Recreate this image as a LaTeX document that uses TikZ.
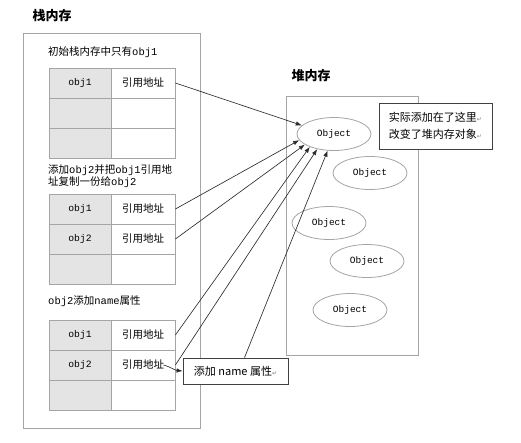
\documentclass[tikz,border=0pt]{standalone}
\usepackage{fontspec}
\setmainfont{Noto Sans CJK SC}
\setmonofont{Liberation Mono}
\newfontfamily\symfont{DejaVu Sans}
\usetikzlibrary{arrows.meta,shapes.geometric,positioning}
\definecolor{boxgray}{RGB}{165,165,165}
\definecolor{cellgray}{RGB}{228,228,228}
\definecolor{linegray}{RGB}{45,45,45}
\newcommand{\crmark}{{\color{gray}\symfont\fontsize{6}{6}\selectfont ↵}}

\begin{document}
\begin{tikzpicture}[x=1pt, y=-1pt, font=\fontsize{10.5}{12}\selectfont,
	frame/.style={draw=boxgray, line width=0.9pt},
	keycell/.style={draw=boxgray, fill=cellgray, line width=0.8pt, minimum width=62pt, minimum height=30pt, inner sep=0pt, font=\ttfamily\fontsize{9.7}{11}\selectfont},
	valcell/.style={draw=boxgray, fill=white, line width=0.8pt, minimum width=64pt, minimum height=30pt, inner sep=0pt},
	caption/.style={anchor=west, inner sep=0pt, align=left},
	title/.style={font=\bfseries\fontsize{13}{15}\selectfont},
	obj/.style={ellipse, draw=boxgray, line width=0.8pt, minimum width=74pt, minimum height=33pt, inner sep=0pt, font=\ttfamily\fontsize{9.5}{11}\selectfont},
	note/.style={draw=black!75, fill=white, line width=0.8pt, inner sep=0pt, align=left, font=\fontsize{11}{17}\selectfont},
	ref/.style={-{Latex[length=6pt,width=4.5pt]}, draw=linegray, line width=0.65pt}]
	\useasboundingbox[fill=white] (0,0) rectangle (521,442);

	% stack
	\node[title] (stacktitle) at (52,16) {栈内存};
	\draw[frame] (23,33) rectangle (200,428);

	\node[caption] (cap1) at (48,52) {初始栈内存中只有\texttt{obj1}};
	\node[keycell] (t1k1) at (80,83) {obj1};
	\node[valcell] (t1v1) at (143,83) {引用地址};
	\node[keycell] (t1k2) at (80,113) {};
	\node[valcell] (t1v2) at (143,113) {};
	\node[keycell] (t1k3) at (80,143) {};
	\node[valcell] (t1v3) at (143,143) {};

	\node[caption] (cap2) at (48,176) {添加\texttt{obj2}并把\texttt{obj1}引用地\\址复制一份给\texttt{obj2}};
	\node[keycell] (t2k1) at (80,209) {obj1};
	\node[valcell] (t2v1) at (143,209) {引用地址};
	\node[keycell] (t2k2) at (80,239) {obj2};
	\node[valcell] (t2v2) at (143,239) {引用地址};
	\node[keycell] (t2k3) at (80,269) {};
	\node[valcell] (t2v3) at (143,269) {};

	\node[caption] (cap3) at (48,301) {\texttt{obj2}添加\texttt{name}属性};
	\node[keycell] (t3k1) at (80,335) {obj1};
	\node[valcell] (t3v1) at (143,335) {引用地址};
	\node[keycell] (t3k2) at (80,365) {obj2};
	\node[valcell] (t3v2) at (143,365) {引用地址};
	\node[keycell] (t3k3) at (80,395) {};
	\node[valcell] (t3v3) at (143,395) {};

	% heap
	\node[title] (heaptitle) at (311,76) {堆内存};
	\draw[frame] (286,96) rectangle (418,355);

	\node[obj] (o1) at (334,134) {Object};
	\node[obj] (o2) at (370,173) {Object};
	\node[obj] (o3) at (329,223) {Object};
	\node[obj] (o4) at (367,261) {Object};
	\node[obj] (o5) at (350,310) {Object};

	\node[note, minimum width=113pt, minimum height=46pt] (heapnote) at (435.5,126) {实际添加在了这里\crmark\\改变了堆内存对象\crmark};
	\node[note, minimum width=105pt, minimum height=26pt] (namebox) at (235.5,371) {添加 name 属性\crmark};

	% references
	\draw[ref] (t1v1.east) -- (o1.165);
	\draw[ref] (t2v1.east) -- (o1.190);
	\draw[ref] (t2v2.east) -- (o1.200);
	\draw[ref] (t3v1.east) -- (o1.208);
	\draw[ref] (t3v2.east) -- (o1.222);
	\draw[ref] ([xshift=9pt]namebox.north) -- (o1.249);
	\draw[ref] ([xshift=-12pt]t3v2.east) to[out=-15, in=175] (namebox.west);
\end{tikzpicture}
\end{document}
